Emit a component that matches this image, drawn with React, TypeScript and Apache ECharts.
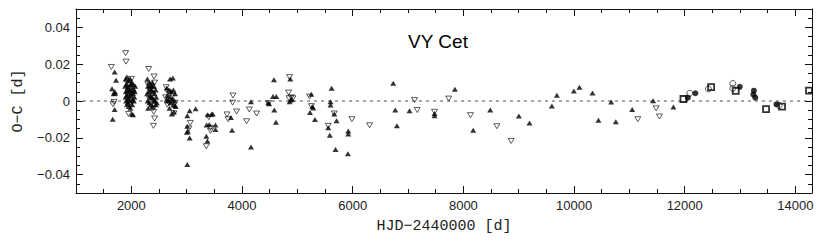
import React, { useEffect, useRef } from "react";
import * as echarts from "echarts";

// Filled triangles (up)
const filledTri: number[][] = [
  [1698, 0.0157], [1724, 0.0113], [1651, 0.0066], [1680, 0.004], [1700, 0.005], [1710, 0.0042], [1698, -0.0046], [1663, -0.0099],
  [1900, 0.012], [1920, 0.013], [1950, 0.011], [1980, 0.012], [2010, 0.010], [2040, 0.009], [2070, 0.008],
  [1890, 0.008], [1910, 0.009], [1930, 0.007], [1960, 0.008], [1990, 0.009], [2020, 0.007], [2050, 0.006],
  [1900, 0.005], [1925, 0.006], [1945, 0.004], [1970, 0.006], [2000, 0.005], [2030, 0.004], [2060, 0.005],
  [1895, 0.002], [1915, 0.003], [1940, 0.001], [1965, 0.002], [1995, 0.003], [2025, 0.001], [2055, 0.002],
  [1905, 0.0], [1935, -0.001], [1975, 0.0], [2015, -0.002], [2045, 0.0],
  [1955, -0.003], [1985, -0.004], [2010, -0.007], [2030, -0.0075], [1920, -0.002],
  [2290, 0.012], [2320, 0.010], [2350, 0.009], [2380, 0.010], [2410, 0.008], [2440, 0.006],
  [2300, 0.008], [2330, 0.007], [2360, 0.006], [2390, 0.005], [2420, 0.004], [2450, 0.002],
  [2285, 0.004], [2310, 0.005], [2340, 0.003], [2370, 0.002], [2400, 0.001], [2430, 0.0], [2460, -0.001],
  [2295, 0.0], [2325, -0.001], [2355, -0.002], [2385, -0.003], [2415, 0.0], [2305, -0.004], [2345, 0.002], [2375, 0.008], [2445, -0.002],
  [2700, 0.012], [2750, 0.0125], [2640, 0.007], [2680, 0.006], [2720, 0.005], [2760, 0.006], [2790, 0.004],
  [2650, 0.003], [2700, 0.002], [2740, 0.001], [2780, 0.0], [2660, 0.0], [2710, -0.001], [2760, -0.002],
  [2800, -0.003], [2690, -0.004], [2730, -0.007], [2770, -0.006], [2640, 0.001], [2790, -0.0025],
  [3011, -0.008], [3054, -0.0053], [3162, -0.0042], [3011, -0.0137], [3020, -0.0164], [3005, -0.017], [3054, -0.0201], [3011, -0.0345],
  [3380, -0.0075], [3450, -0.0072], [3360, -0.013], [3410, -0.0128], [3520, -0.013], [3520, -0.0155], [3470, -0.007],
  [3355, -0.0192], [3375, -0.0217],
  [3800, -0.009], [3820, -0.0159], [4162, -0.0004], [4162, -0.025],
  [4474, -0.001], [4490, -0.0015], [4577, 0.0115], [4560, 0.0024], [4620, 0.0024], [4583, -0.0049], [4613, -0.0115],
  [4872, 0.012], [4880, 0.0005], [4860, -0.0004], [4900, 0.001],
  [5251, 0.0037], [5270, -0.003], [5287, -0.0038], [5228, -0.0062], [5318, -0.01],
  [5619, 0.0069], [5600, -0.0004], [5600, -0.0022], [5667, -0.0071], [5558, -0.0146], [5709, -0.0108],
  [5587, -0.0186], [5690, -0.0263], [5920, -0.0163], [5920, -0.018], [5914, -0.0287],
  [6733, 0.0097], [6769, -0.0049], [6799, -0.0135], [7027, -0.0053],
  [7479, -0.0068], [7479, -0.008], [7847, 0.0064], [8178, -0.0159], [8485, -0.0049], [9003, -0.0082], [9195, -0.0119],
  [9599, -0.0027], [9690, 0.0031], [9997, 0.0055], [10098, 0.0075], [10333, 0.0044], [10441, -0.0104],
  [10671, -0.0005], [10755, -0.0113], [11050, -0.0046], [11429, 0.0002], [11796, -0.0033],
];

// Open triangles (down)
const openTri: number[][] = [
  [1639, 0.0185], [1687, -0.0005], [1670, -0.0018],
  [1897, 0.026], [1905, 0.0214], [1920, 0.010], [1960, 0.009], [2000, 0.012], [1940, 0.003], [1980, -0.001], [2020, 0.004], [1950, -0.007], [1990, -0.002],
  [2313, 0.0174], [2410, 0.0133], [2300, 0.009], [2340, 0.006], [2380, 0.004], [2420, 0.010], [2350, -0.002], [2395, -0.004],
  [2405, -0.0059], [2420, -0.0095], [2400, -0.0135], [2330, 0.001],
  [2630, 0.0075], [2660, 0.005], [2700, 0.004], [2750, 0.003], [2620, 0.002], [2680, -0.001], [2720, 0.0], [2770, -0.0067], [2650, -0.002], [2790, -0.001],
  [3065, -0.0119], [3040, -0.015],
  [3430, -0.0146], [3400, -0.0088], [3355, -0.0246], [3430, -0.0162],
  [3729, -0.0073], [3750, -0.0099], [3837, 0.003], [3830, -0.0009], [3902, -0.0057],
  [4083, -0.011], [4132, -0.0046], [4264, -0.0068], [4480, -0.0012],
  [4860, 0.013], [4842, 0.0046], [4850, 0.0015], [4890, 0.002], [4920, 0.0015],
  [5221, 0.0024], [5255, -0.0028], [5667, -0.0068], [5558, -0.0135], [5986, -0.0099], [6305, -0.0132],
  [7118, 0.0005], [7166, -0.0049], [7479, -0.0059], [7735, 0.0013], [8129, -0.0077], [8606, -0.0137], [8864, -0.0217],
  [11152, -0.0099], [11483, -0.004], [11543, -0.0084],
];

// Open circles
const openCircle: number[][] = [
  [12092, 0.0042], [12428, 0.0066], [12869, 0.0095], [12869, 0.0069], [13705, -0.0024],
];

// Filled circles
const filledCircle: number[][] = [
  [12056, 0.0018], [12193, 0.0042], [12995, 0.0077], [13250, 0.0056], [13240, 0.0035], [13276, 0.0018], [13657, -0.0018],
];

// Open squares
const openSquare: number[][] = [
  [11977, 0.0011], [12477, 0.0075], [12922, 0.0055], [13470, -0.0044], [13759, -0.0031], [14246, 0.0056],
];

const xMajor = [2000, 4000, 6000, 8000, 10000, 12000, 14000];
const xMinor = [1500, 2500, 3000, 3500, 4500, 5000, 5500, 6500, 7000, 7500, 8500, 9000, 9500, 10500, 11000, 11500, 12500, 13000, 13500];
const yMajor = [-0.04, -0.02, 0, 0.02, 0.04];
const yMinor = [-0.045, -0.035, -0.03, -0.025, -0.015, -0.01, -0.005, 0.005, 0.01, 0.015, 0.025, 0.03, 0.035, 0.045];

const X_MIN = 1000;
const X_MAX = 14300;
const Y_MIN = -0.05;
const Y_MAX = 0.05;

const fmtY = (v: number) => {
  if (Math.abs(v) < 1e-9) return "0";
  const s = Math.abs(v).toFixed(2);
  return v < 0 ? "\u2212" + s : s;
};
const fmtX = (v: number) => String(Math.round(v));

export default function App() {
  const ref = useRef<HTMLDivElement>(null);
  useEffect(() => {
    if (!ref.current) return;
    const chart = echarts.init(ref.current, null, { renderer: "svg" });
    const lineCol = "#111";
    const mkX = (pos: "bottom" | "top", major: boolean, first: boolean) => ({
      type: "value",
      position: pos,
      min: X_MIN,
      max: X_MAX,
      splitLine: { show: false },
      axisLine: { show: first, onZero: false, lineStyle: { color: lineCol, width: 1 } },
      axisTick: {
        show: true,
        inside: true,
        length: major ? 7 : 4,
        customValues: major ? xMajor : xMinor,
        lineStyle: { color: lineCol, width: 1 },
      },
      axisLabel: {
        show: pos === "bottom" && major,
        customValues: xMajor,
        formatter: fmtX,
        color: "#222",
        fontFamily: "Liberation Sans",
        fontSize: 13,
        margin: 6,
      },
      name: pos === "bottom" && major ? "HJD\u22122440000 [d]" : "",
      nameLocation: "middle",
      nameGap: 26,
      nameTextStyle: { fontFamily: "Liberation Mono", fontSize: 15, color: "#222", verticalAlign: "top" },
    });
    const mkY = (pos: "left" | "right", major: boolean, first: boolean) => ({
      type: "value",
      position: pos,
      min: Y_MIN,
      max: Y_MAX,
      splitLine: { show: false },
      axisLine: { show: first, onZero: false, lineStyle: { color: lineCol, width: 1 } },
      axisTick: {
        show: true,
        inside: true,
        length: major ? 7 : 4,
        customValues: major ? yMajor : yMinor,
        lineStyle: { color: lineCol, width: 1 },
      },
      axisLabel: {
        show: pos === "left" && major,
        customValues: yMajor,
        formatter: fmtY,
        color: "#222",
        fontFamily: "Liberation Sans",
        fontSize: 13,
        margin: 6,
      },
      name: pos === "left" && major ? "O\u2212C [d]" : "",
      nameLocation: "middle",
      nameGap: 46,
      nameTextStyle: { fontFamily: "Liberation Mono", fontSize: 15, color: "#222" },
    });

    const openStyle = { color: "rgba(255,255,255,0)", borderColor: "#000", borderWidth: 0.8 };
    chart.setOption({
      animation: false,
      backgroundColor: "#fff",
      grid: { left: 76, right: 18, top: 9, bottom: 54, containLabel: false },
      xAxis: [mkX("bottom", true, true), mkX("bottom", false, false), mkX("top", true, true), mkX("top", false, false)],
      yAxis: [mkY("left", true, true), mkY("left", false, false), mkY("right", true, true), mkY("right", false, false)],
      graphic: [
        {
          type: "text",
          x: 438,
          y: 41,
          style: {
            text: "VY Cet",
            font: "19px 'Liberation Sans'",
            fill: "#000",
            textAlign: "center",
            textVerticalAlign: "middle",
          },
        },
      ],
      series: [
        {
          type: "line",
          data: [[X_MIN, 0], [X_MAX, 0]],
          showSymbol: false,
          symbol: "none",
          lineStyle: { color: "#555", width: 1, type: [3, 4] },
          silent: true,
          z: 1,
        },
        {
          type: "scatter",
          data: openTri,
          symbol: "triangle",
          symbolRotate: 180,
          symbolSize: [6, 5],
          itemStyle: openStyle,
          z: 2,
        },
        {
          type: "scatter",
          data: filledTri,
          symbol: "triangle",
          symbolSize: [6, 5],
          itemStyle: { color: "#000" },
          z: 3,
        },
        {
          type: "scatter",
          data: openCircle,
          symbol: "circle",
          symbolSize: 6,
          itemStyle: openStyle,
          z: 3,
        },
        {
          type: "scatter",
          data: filledCircle,
          symbol: "circle",
          symbolSize: 6,
          itemStyle: { color: "#000" },
          z: 3,
        },
        {
          type: "scatter",
          data: openSquare,
          symbol: "rect",
          symbolSize: 6,
          itemStyle: { color: "rgba(255,255,255,0)", borderColor: "#000", borderWidth: 1.8 },
          z: 4,
        },
      ],
    });
    return () => chart.dispose();
  }, []);
  return <div ref={ref} style={{ width: 830, height: 247, margin: -8 }} />;
}
